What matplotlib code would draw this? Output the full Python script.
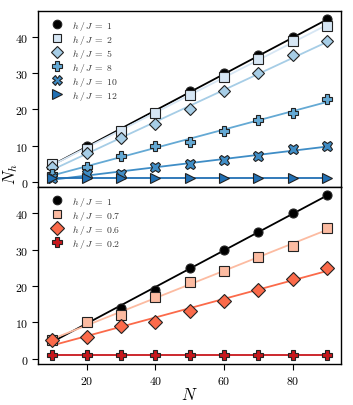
import matplotlib
matplotlib.use("Agg")
import matplotlib.pyplot as plt
import numpy as np
from matplotlib.ticker import FuncFormatter

plt.rcParams["mathtext.fontset"] = "cm"
plt.rcParams["font.family"] = "serif"
plt.rcParams["font.serif"] = ["DejaVu Serif"]

N = [10, 20, 30, 40, 50, 60, 70, 80, 90]

# oberen Panel: h/J >= 1
top_labels = ["1", "2", "5", "8", "10", "12"]
top_vals = [
    [5, 10, 14, 19, 25, 30, 35, 40, 45],
    [5, 9, 14, 19, 24, 29, 34, 39, 43],
    [4, 8, 12, 16, 20, 25, 30, 35, 39],
    [2, 4, 7, 10, 11, 14, 17, 19, 23],
    [1, 2, 2, 4, 5, 6, 7, 9, 10],
    [1, 1, 1, 1, 1, 1, 1, 1, 1],
]
top_colors = ["black", "#d6e6f4", "#a6cde6", "#64a9d4", "#3f8dc6", "#2170b4"]
top_markers = ["o", "s", "D", "P", "X", ">"]
top_sizes = [6.5, 6.5, 6.5, 7.5, 7.5, 7]

# unteren Panel: h/J <= 1
bot_labels = ["1", "0.7", "0.6", "0.2"]
bot_vals = [
    [5, 10, 14, 19, 25, 30, 35, 40, 45],
    [5, 10, 12, 17, 21, 24, 28, 31, 36],
    [5, 6, 9, 10, 13, 16, 19, 22, 25],
    [1, 1, 1, 1, 1, 1, 1, 1, 1],
]
bot_colors = ["black", "#fcbba1", "#fb6a4a", "#c8171c"]
bot_markers = ["o", "s", "D", "P"]
bot_sizes = [6.5, 6.5, 7, 7.5]

fig = plt.figure(figsize=(3.53, 4.06), dpi=100)
ax1 = fig.add_axes([0.109, 0.537, 0.857, 0.4335])
ax2 = fig.add_axes([0.109, 0.101, 0.857, 0.436])

x = np.array(N)


def panel(ax, labels, vals, colors, markers, sizes):
    for lab, y, c, m, s in zip(labels, vals, colors, markers, sizes):
        y = np.array(y)
        k, d = np.polyfit(x, y, 1)
        ax.plot(x, k * x + d, color=c, lw=1.3, zorder=2)
        ax.plot(x, y, ls="none", marker=m, ms=s, mfc=c, mec="#222222",
                mew=0.8, label=f"$h\\,/\\,J\\;=\\;{lab}$", zorder=3)
    leg = ax.legend(loc="upper left", frameon=False, fontsize=7,
                    handletextpad=0.5, labelspacing=0.1, markerscale=0.95,
                    borderaxespad=0.4, bbox_to_anchor=(0.005, 1.0))
    for t in leg.get_texts():
        t.set_color("#333333")
    ax.set_xlim(6, 94)
    ax.set_ylim(-1.5, 47.3)
    ax.set_yticks([0, 10, 20, 30, 40])
    ax.set_xticks([20, 40, 60, 80])
    ax.tick_params(direction="out", length=4, width=0.8, labelsize=8.5)
    ax.yaxis.set_major_formatter(FuncFormatter(lambda v, p: f"${v:g}$"))
    ax.xaxis.set_major_formatter(FuncFormatter(lambda v, p: f"${v:g}$"))
    for sp in ax.spines.values():
        sp.set_linewidth(1.0)


panel(ax1, top_labels, top_vals, top_colors, top_markers, top_sizes)
panel(ax2, bot_labels, bot_vals, bot_colors, bot_markers, bot_sizes)
ax1.tick_params(labelbottom=False)
ax2.set_xlabel("$N$", fontsize=12, labelpad=-1)
fig.text(0.03, 0.572, "$N_h$", rotation=90, fontsize=12, ha="center", va="center")

fig.savefig("out.png", dpi=100)
